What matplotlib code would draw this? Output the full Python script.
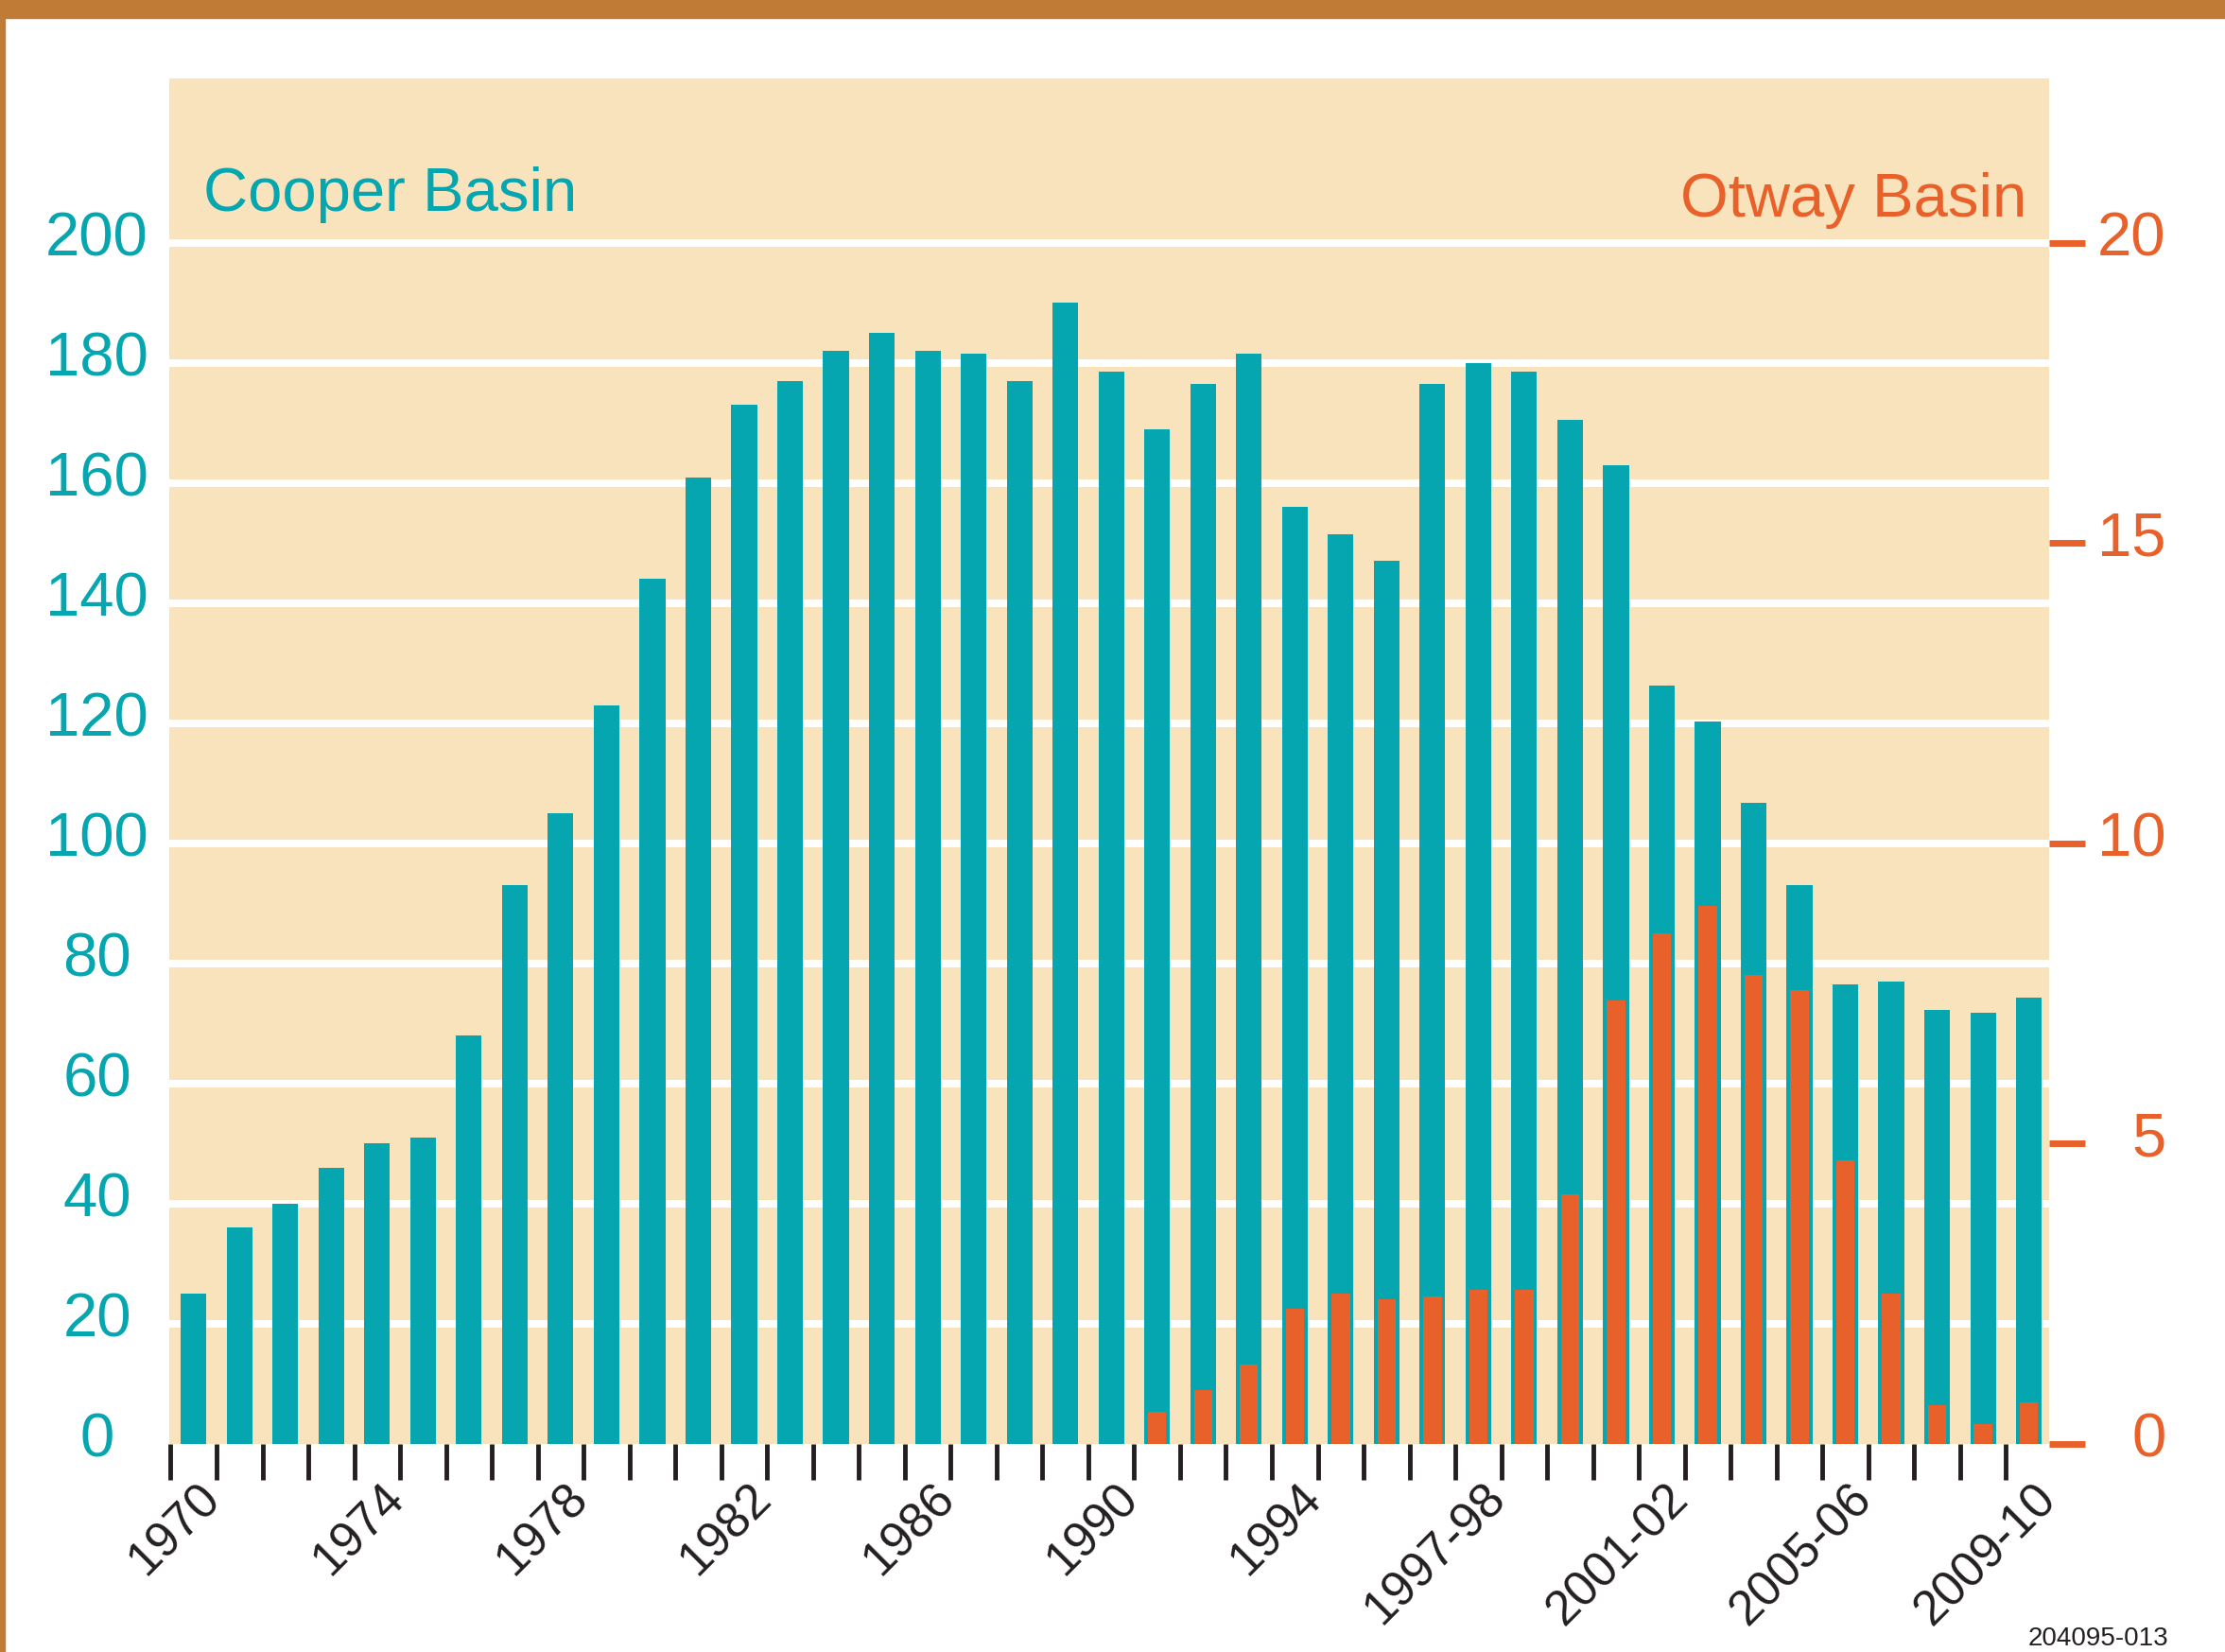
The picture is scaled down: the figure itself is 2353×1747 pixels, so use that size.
import matplotlib.pyplot as plt
import matplotlib.transforms as mtransforms
from matplotlib.patches import Rectangle
import numpy as np

# wells drilled per year
periods = [str(y) for y in range(1970, 1997)] + \
    ["1996-97", "1997-98", "1998-99", "1999-00", "2000-01", "2001-02", "2002-03",
     "2003-04", "2004-05", "2005-06", "2006-07", "2007-08", "2008-09", "2009-10"]

cooper = [25, 36, 40, 46, 50, 51, 68, 93, 105, 123,
          144, 161, 173, 177, 182, 185, 182, 181.5, 177, 190,
          178.5, 169, 176.5, 181.5, 156, 151.5, 147, 176.5, 180, 178.5,
          170.5, 163, 126.3, 120.3, 106.8, 93, 76.5, 77, 72.3, 71.8,
          74.3]

otway = [0] * 21 + [0.53, 0.9, 1.32, 2.25, 2.5, 2.41, 2.45, 2.56, 2.56,
                    4.15, 7.38, 8.5, 8.95, 7.8, 7.56, 4.72, 2.5, 0.64, 0.32,
                    0.69]

shown_labels = ["1970", "1974", "1978", "1982", "1986", "1990", "1994",
                "1997-98", "2001-02", "2005-06", "2009-10"]

teal = "#05a6af"
orange = "#e8612a"
bg = "#f9e3bc"
brown = "#c07c36"

plt.rcParams["font.family"] = ["Liberation Sans", "DejaVu Sans"]

fig = plt.figure(figsize=(23.53, 17.47), dpi=100)
ax = fig.add_axes([179 / 2353, 1 - 1526.7 / 1747, (2167 - 179) / 2353, (1526.7 - 83) / 1747])
ax2 = ax.twinx()

x = np.arange(len(periods))
ax.set_facecolor(bg)
ax.set_axisbelow(True)
for v in range(20, 201, 20):
    ax.axhline(v, color="white", lw=5.8, zorder=0.5)
ax.bar(x, cooper, width=0.56, color=teal, zorder=2)

# Otway bars drawn on the right axis, in front of the Cooper bars
ax2.set_zorder(ax.get_zorder() + 1)
ax2.patch.set_visible(False)
ax2.bar(x, otway, width=0.4, color=orange, zorder=3)

ax.set_xlim(-0.53, 40.44)
ax.set_ylim(0, 227.4)
ax2.set_ylim(0, 22.74)

for a in (ax, ax2):
    for s in a.spines.values():
        s.set_visible(False)

# x axis: marks between bars, labels every fourth bar
ax.xaxis.remove_overlapping_locs = False
ax.set_xticks(np.arange(len(periods)) - 0.5)
ax.set_xticklabels([])
ax.tick_params(axis="x", which="major", direction="out", length=27, width=3.5,
               color="#231f20")
lab_pos = [periods.index(p) for p in shown_labels]
ax.set_xticks(np.array(lab_pos) + 0.07, shown_labels, minor=True)
ax.tick_params(axis="x", which="minor", length=0, pad=24, labelsize=37,
               labelcolor="#231f20")
for lab in ax.get_xticklabels(minor=True):
    lab.set_rotation(45)
    lab.set_ha("right")
    lab.set_va("top")
    lab.set_rotation_mode("anchor")

# left axis
ax.set_yticks(range(0, 201, 20))
ax.tick_params(axis="y", length=0, pad=55, labelsize=47, labelcolor=teal)
up = mtransforms.ScaledTranslation(0, 10 / 100, fig.dpi_scale_trans)
for lab in ax.get_yticklabels():
    lab.set_ha("center")
    lab.set_transform(lab.get_transform() + up)

# right axis
ax2.set_yticks(range(0, 21, 5))
ax2.tick_params(axis="y", direction="out", length=27, width=5, color=orange,
                pad=62, labelsize=47, labelcolor=orange)
for lab in ax2.get_yticklabels():
    lab.set_ha("right")
    lab.set_transform(lab.get_transform() + up)

ax.text(0.018, 0.903, "Cooper Basin", transform=ax.transAxes, fontsize=47,
        color=teal, ha="left", va="baseline")
ax.text(0.988, 0.899, "Otway Basin", transform=ax.transAxes, fontsize=47,
        color=orange, ha="right", va="baseline")
fig.text(2293 / 2353, 1 - 1740 / 1747, "204095-013", fontsize=20,
         color="#231f20", ha="right", va="baseline")

# frame
fig.patches.append(Rectangle((0, 1 - 19 / 1747), 1, 19 / 1747,
                             transform=fig.transFigure, color=brown))
fig.patches.append(Rectangle((0, 0), 5 / 2353, 1,
                             transform=fig.transFigure, color=brown))

fig.savefig("out.png", dpi=100, facecolor="white")
